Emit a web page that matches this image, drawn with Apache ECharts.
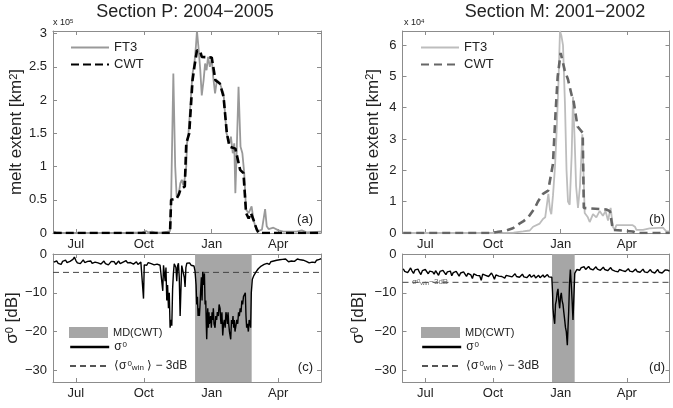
<!DOCTYPE html>
<html><head><meta charset="utf-8">
<script src="https://cdn.jsdelivr.net/npm/echarts@6/dist/echarts.min.js"></script>
<style>html,body{margin:0;padding:0;background:#fff}#c{width:673px;height:408px}</style>
</head><body><div id="c"></div>
<script>
const FONT = 'Liberation Sans, Arial, Helvetica, sans-serif';
// x axis: days since 1 June
const monthNames = ['Jul', 'Oct', 'Jan', 'Apr'];
const monthDays = [30, 122, 214, 304];
const xRange = [-1, 362];
const meltTicksP = [0, 0.5, 1, 1.5, 2, 2.5, 3];
const meltTicksM = [0, 1, 2, 3, 4, 5, 6];
const sigmaTicks = [-30, -20, -10, 0];
const meltMaxP = 3.04, meltMaxM = 6.45, sigmaMin = -33, sigmaMax = 0;

// Section P melt extent (x 10^5 km^2)
const ft3P = [[0,0.02],[3,0.01],[10,0],[60,0],[108,0.005],[120,0.01],[125,0.03],[128,0.01],[133,0.02],[138,0.005],[148,0.01],[154,0.02],[157.5,0.03],[159,0.5],[162,2.4],[164.5,1.0],[166.5,0.55],[169.5,0.6],[171.5,0.75],[173.5,0.8],[175.5,0.72],[177.5,0.82],[179.5,1.0],[180.5,1.35],[182.5,1.5],[185.5,2.0],[188,2.4],[190.5,2.55],[192.5,2.8],[194,3.04],[196,2.8],[198.5,2.45],[200.5,2.07],[203,2.3],[205,2.55],[207,2.45],[209,2.65],[211.5,2.5],[214,2.62],[216,2.35],[218.5,2.1],[221,2.3],[225,2.25],[230,2.1],[234,1.5],[238,1.35],[240,1.45],[242.5,1.2],[244.5,1.35],[246,0.6],[248,1.3],[250.3,2.2],[253,1.3],[255.5,1.2],[258,0.9],[260.5,0.35],[264,0.3],[268,0.4],[270.5,0.2],[273,0.1],[277,0.03],[282,0.05],[286.3,0.36],[288.5,0.1],[291,0.06],[297.5,0.08],[304.5,0.04],[311,0.02],[329,0.02],[336,0.04],[342.5,0.01],[362,0.02]];
const cwtP = [[0,0],[157.5,0],[159,0.5],[166.5,0.52],[169.5,0.58],[171.5,0.65],[177.5,0.7],[179.5,1.35],[183.5,1.5],[188,2.3],[190.5,2.5],[194,2.75],[198.5,2.73],[200.5,2.65],[214,2.64],[219,2.3],[225,2.25],[230,2.05],[234.5,1.5],[238,1.3],[246,1.27],[248,1.25],[252.5,0.95],[257,0.9],[260.5,0.3],[264,0.22],[267,0.3],[270.5,0.2],[275,0.05],[277.5,0],[362,0]];

// Section M melt extent (x 10^4 km^2)
const ft3M = [[0,0],[120,0],[150,0.01],[163,0.05],[172,0.08],[176.5,0.2],[185.5,0.3],[190,0.45],[193,0.5],[195,0.85],[197.3,1.25],[199.5,0.75],[201.3,0.6],[203.6,1.2],[206.3,2.1],[208.1,3.0],[210.9,4.7],[213.1,6.45],[215,6.3],[217.2,6.0],[219.9,4.1],[222,2.0],[224,1.0],[226.3,0.9],[229,2.5],[230.8,4.35],[233,3.0],[235,1.5],[237.6,0.8],[240.3,1.5],[243.5,3.15],[245,2.0],[246.7,0.64],[251,0.5],[253.5,0.35],[258,0.6],[262.5,0.5],[267,0.7],[271.5,0.55],[275,0.7],[278.4,0.4],[282,0.8],[285,0.2],[287.5,0.1],[289.7,0.25],[312,0.25],[315,0.2],[317,0.1],[326,0.1],[328,0.12],[335,0.15],[353,0.17],[357.7,0.05],[362,0.05]];
const cwtM = [[0,0],[117,0],[127,0.03],[140,0.08],[149,0.15],[158,0.3],[163,0.37],[170,0.5],[179,0.8],[183,1.0],[190,1.25],[197,1.35],[203.5,2.2],[207,3.8],[210,5.0],[214,5.75],[219.5,5.2],[224,4.9],[229,4.4],[231,4.3],[237,3.4],[244,3.2],[245.5,0.8],[276,0.75],[281,0.7],[285,0.1],[312,0.05],[317,0],[362,0]];

// sigma0 [dB], Section P
const sigmaP = [[0,-2.1],[2,-2.6],[4,-1.8],[6,-2.4],[8,-2.0],[10,-2.7],[12,-1.9],[14,-2.3],[16,-1.6],[18,-2.2],[20,-2.5],[22,-1.9],[24,-2.2],[26,-1.4],[28,-0.8],[30,-1.7],[32,-2.3],[34,-1.8],[36,-2.5],[38,-2.0],[40,-1.5],[42,-2.2],[44,-2.6],[46,-1.9],[48,-2.3],[50,-1.8],[52,-2.4],[54,-2.9],[56,-2.1],[58,-1.7],[60,-2.3],[62,-2.0],[64,-2.6],[66,-2.2],[68,-1.8],[70,-2.5],[72,-2.1],[74,-2.8],[76,-2.3],[78,-1.9],[80,-2.4],[82,-2.0],[84,-2.7],[86,-2.2],[88,-1.8],[90,-2.5],[92,-2.9],[94,-2.1],[96,-2.4],[98,-1.7],[100,-2.3],[102,-2.8],[104,-2.2],[106,-1.9],[108,-2.6],[110,-2.3],[112,-2.0],[114,-2.7],[116,-2.4],[118,-2.1],[120.6,-2.6],[121.6,-11.5],[122.6,-2.8],[124,-2.4],[126,-2.9],[128,-2.2],[130,-2.7],[132,-2.5],[134,-2.1],[136,-2.8],[138,-2.4],[140,-2.6],[142,-2.2],[144,-2.9],[146.7,-2.5],[147.7,-9.5],[148.7,-2.9],[150,-2.6],[150.9,-7],[152,-3.5],[153.1,-12],[154.2,-8],[155.4,-14],[156.5,-10],[157.6,-19],[158.7,-17],[159.9,-18.5],[161,-9],[162.1,-5],[163.2,-2.5],[164.4,-2.2],[165.5,-3.5],[166.6,-7],[167.8,-3],[168.9,-2.4],[170,-6],[171.2,-16],[172.3,-9],[173.4,-3],[174.5,-2.5],[175.7,-2.8],[176.8,-6],[177.9,-8.5],[179,-3.5],[180.2,-2.4],[182,-2.8],[184,-2.3],[186,-2.9],[188,-2.5],[190,-3.1],[191.4,-4.5],[192.8,-8],[193.7,-13],[194.6,-11],[195.5,-16],[196.4,-14],[197.3,-16],[198.2,-13],[199.1,-9],[200,-6],[200.9,-12],[201.8,-4.6],[202.7,-8],[204.1,-5],[205,-13],[205.9,-12],[206.6,-18],[207.2,-22],[208,-16],[208.6,-14],[209.5,-19],[210.3,-15],[210.8,-18],[211.7,-17],[212.6,-16],[213.5,-19],[214.4,-15],[215.3,-17],[216.2,-14],[217.1,-18],[218.5,-19],[219.5,-16],[220.7,-17],[221.6,-15],[223,-16],[224,-13],[225.3,-14],[226.1,-17],[226.6,-18],[227.8,-15],[228.9,-21],[230,-18],[231.1,-17],[232.2,-19],[233.2,-15],[234.3,-16],[235.2,-18],[236.1,-15],[237,-18],[238,-20],[239.7,-22],[240.8,-17],[241.9,-18],[242.8,-16],[243.7,-19],[244.6,-17],[245.5,-20],[246.9,-20],[248,-17],[249.2,-18],[250.3,-15],[251.4,-16],[252.5,-14],[253.7,-15],[254.8,-12],[255.9,-13],[257,-11],[258.2,-11],[259.5,-10],[260.4,-16],[261.3,-19],[262.4,-18],[263.6,-20],[264.7,-17],[265.8,-18],[266.7,-19],[267.6,-10],[269,-6.5],[270.3,-6],[271.2,-5.5],[272.6,-5],[274,-4.6],[275.5,-4.2],[277,-3.8],[279,-3.5],[281,-3.1],[283,-3.3],[285,-2.7],[287,-3.0],[289,-2.4],[290,-2.2],[292,-2.7],[294,-2.0],[296,-2.4],[298,-1.8],[300,-2.2],[302,-1.6],[304,-2.0],[306,-1.5],[308,-1.9],[310,-1.4],[312,-1.8],[314,-1.3],[316,-1.7],[318,-2.0],[320,-1.5],[322,-1.8],[324,-1.4],[326,-1.9],[328,-1.6],[330,-1.3],[332,-1.8],[334,-1.5],[336,-2.0],[338,-1.6],[340,-1.4],[342,-1.9],[344,-1.5],[346,-2.3],[348,-2.8],[350,-2.1],[352,-1.7],[354,-2.2],[356,-1.6],[358,-1.9],[360,-1.4],[362,-1.2]];

// sigma0 [dB], Section M
const sigmaM = [[0,-3.8],[2,-4.5],[4,-4.0],[6,-4.8],[8,-4.2],[10,-3.6],[12,-4.4],[14,-5.0],[16,-4.1],[18,-4.6],[20,-3.9],[22,-4.7],[24,-5.3],[26,-4.3],[28,-4.8],[30,-4.0],[32,-4.5],[34,-5.1],[36,-4.4],[38,-3.9],[40,-4.6],[42,-5.2],[44,-4.3],[46,-4.8],[48,-5.5],[50,-4.5],[52,-4.9],[54,-4.2],[56,-4.7],[58,-5.3],[60,-4.6],[62,-5.0],[64,-4.4],[66,-5.6],[68,-4.8],[70,-5.2],[72,-4.5],[74,-5.0],[76,-5.7],[78,-4.9],[80,-5.3],[82,-4.6],[84,-5.1],[86,-5.8],[88,-5.0],[90,-4.7],[92,-5.4],[94,-6.3],[96,-5.1],[98,-4.8],[100,-5.5],[102,-5.0],[104,-5.6],[106,-6.8],[108,-5.2],[110,-4.9],[112,-5.5],[114,-5.1],[116,-5.8],[118,-5.3],[120,-4.9],[122,-5.6],[124,-6.5],[126,-5.4],[128,-5.0],[130,-5.7],[132,-5.2],[134,-5.8],[136,-5.3],[138,-6.2],[140,-5.5],[142,-5.0],[144,-5.7],[146,-5.3],[148,-5.9],[150,-5.4],[152,-5.1],[154,-5.8],[156,-5.4],[158,-6.0],[160,-5.5],[162,-5.2],[164,-5.9],[166,-5.5],[168,-6.1],[170,-5.6],[172,-5.3],[174,-6.0],[176,-5.7],[178,-5.4],[180,-6.2],[182,-5.8],[184,-5.5],[186,-6.1],[188,-5.7],[190,-5.4],[192,-6.0],[194,-5.6],[196,-5.3],[198,-5.9],[200,-5.5],[202,-6.0],[203,-10],[203.6,-14],[204.5,-16],[205.9,-18],[207,-13],[208.1,-12],[209.2,-10],[210.4,-9],[211.5,-12],[212.7,-14],[213.8,-11],[214.9,-10],[216,-12],[217.2,-13],[218.3,-15],[219.5,-17],[220.6,-19],[221.7,-20],[223.1,-23.5],[224,-19],[224.9,-15],[226,-8],[227.2,-4],[228.5,-8],[229.6,-12],[230.8,-17],[232.2,-10],[233.2,-5],[234,-4.5],[236,-4.0],[238,-3.6],[240,-4.2],[242,-3.5],[244,-3.9],[246,-3.3],[248,-4.0],[250,-3.6],[252,-3.2],[254,-3.8],[256,-3.4],[258,-4.1],[260,-3.6],[262,-3.3],[264,-3.9],[266,-3.5],[268,-4.2],[270,-3.7],[272,-3.4],[274,-4.0],[276,-3.6],[278,-4.3],[280,-3.8],[282,-3.5],[284,-4.1],[286,-3.7],[288,-4.4],[290,-3.9],[292,-4.6],[294,-4.0],[296,-3.7],[298,-4.3],[300,-3.9],[302,-4.5],[304,-4.1],[306,-3.8],[308,-4.4],[310,-4.0],[312,-4.6],[314,-4.2],[316,-3.9],[318,-4.5],[320,-4.1],[322,-4.7],[324,-4.2],[326,-3.9],[328,-4.6],[330,-4.2],[332,-4.8],[334,-4.3],[336,-4.0],[338,-4.6],[340,-4.2],[342,-4.9],[344,-4.4],[346,-4.0],[348,-4.7],[350,-4.3],[352,-4.9],[354,-4.5],[356,-4.1],[358,-4.6],[360,-4.2],[362,-4.4]];

// melt duration (CWT) windows and thresholds
const mdP = [191.4, 268.1];
const mdM = [202.3, 233.1];
const thrP = -4.74;
const thrM = -7.3;

const AX = '#8c8c8c', TXT = '#222';
const grids = [
  {left: 53, top: 31, width: 268, height: 202},
  {left: 402.5, top: 31, width: 267, height: 202},
  {left: 53, top: 254, width: 268, height: 128},
  {left: 402.5, top: 254, width: 267, height: 128}
];
const RICH = {
  sup: {fontSize: 8, verticalAlign: 'top', fontFamily: FONT, color: TXT, padding: [0, 0, 0, 1]},
  sub: {fontSize: 8, verticalAlign: 'bottom', fontFamily: FONT, color: TXT}
};
const RICHNAME = {sup: {fontSize: 11, verticalAlign: 'top', fontFamily: FONT, color: TXT}};

function xAx(gi, pos, labels) {
  return {type: 'value', gridIndex: gi, position: pos, min: xRange[0], max: xRange[1],
    axisLine: {show: true, onZero: false, lineStyle: {color: AX, width: 1}},
    axisTick: {show: true, inside: true, length: 4, customValues: monthDays, lineStyle: {color: AX}},
    axisLabel: {show: labels, customValues: monthDays, margin: 5, color: TXT, fontSize: 13, fontFamily: FONT,
      formatter: v => monthNames[monthDays.indexOf(v)]},
    splitLine: {show: false}};
}
function fmtNum(v) { return v < 0 ? '\u2212' + Math.abs(v) : String(v); }
function yAx(gi, pos, labels, min, max, ticks, name, gap) {
  return {type: 'value', gridIndex: gi, position: pos, min: min, max: max,
    name: labels ? name : '', nameLocation: 'middle', nameGap: gap,
    nameTextStyle: {fontSize: 17, color: TXT, fontFamily: FONT, rich: RICHNAME},
    axisLine: {show: true, onZero: false, lineStyle: {color: AX, width: 1}},
    axisTick: {show: true, inside: true, length: 4, customValues: ticks, lineStyle: {color: AX}},
    axisLabel: {show: labels, customValues: ticks, margin: 6, color: TXT, fontSize: 13, fontFamily: FONT, formatter: fmtNum},
    splitLine: {show: false}};
}
const meltName = 'melt extent [km{sup|2}]';
const sigName = '\u03c3{sup|0} [dB]';
const xAxes = [], yAxes = [];
const yCfg = [
  [0, meltMaxP, meltTicksP, meltName, 27],
  [0, meltMaxM, meltTicksM, meltName, 21],
  [sigmaMin, sigmaMax, sigmaTicks, sigName, 32],
  [sigmaMin, sigmaMax, sigmaTicks, sigName, 36]
];
for (let g = 0; g < 4; g++) {
  xAxes.push(xAx(g, 'bottom', true), xAx(g, 'top', false));
  const c = yCfg[g];
  yAxes.push(yAx(g, 'left', true, c[0], c[1], c[2], c[3], c[4]), yAx(g, 'right', false, c[0], c[1], c[2], c[3], c[4]));
}

function line(name, g, data, color, width, type, z) {
  return {type: 'line', name: name, xAxisIndex: 2 * g, yAxisIndex: 2 * g, data: data, symbol: 'none',
    lineStyle: {color: color, width: width, type: type}, itemStyle: {color: color}, z: z, silent: true};
}
function mdSeries(name, g, md) {
  return {type: 'line', name: name, xAxisIndex: 2 * g, yAxisIndex: 2 * g,
    data: [[md[0], sigmaMin], [md[1], sigmaMin]], symbol: 'none', lineStyle: {opacity: 0, width: 0},
    itemStyle: {color: '#a6a6a6'}, z: 1, silent: true,
    markArea: {silent: true, itemStyle: {color: '#a6a6a6', opacity: 1}, data: [[{xAxis: md[0]}, {xAxis: md[1]}]]}};
}
const series = [
  mdSeries('MD P', 2, mdP),
  mdSeries('MD M', 3, mdM),
  line('FT3 P', 0, ft3P, '#999999', 1.8, 'solid', 3),
  line('CWT P', 0, cwtP, '#000000', 2.6, [8, 4], 4),
  line('FT3 M', 1, ft3M, '#bdbdbd', 1.8, 'solid', 3),
  line('CWT M', 1, cwtM, '#666666', 2.6, [8, 5], 4),
  line('thr P', 2, [[xRange[0], thrP], [xRange[1], thrP]], '#444444', 1, [6, 4], 3),
  line('thr M', 3, [[xRange[0], thrM], [xRange[1], thrM]], '#444444', 1, [6, 4], 3),
  line('sigma P', 2, sigmaP, '#000000', 1.4, 'solid', 5),
  line('sigma M', 3, sigmaM, '#000000', 1.4, 'solid', 5)
];

const legendText = {
  'FT3 P': 'FT3', 'CWT P': 'CWT', 'FT3 M': 'FT3', 'CWT M': 'CWT',
  'MD P': 'MD(CWT)', 'MD M': 'MD(CWT)',
  'sigma P': '\u03c3{sup|0}', 'sigma M': '\u03c3{sup|0}',
  'thr P': '\u27e8\u03c3{sup|0}{sub|win} \u27e9 \u2212 3dB', 'thr M': '\u27e8\u03c3{sup|0}{sub|win} \u27e9 \u2212 3dB'
};
function leg(name, left, top, fs, extra) {
  return Object.assign({data: [name], left: left, top: top, padding: 0, itemWidth: 38, itemHeight: 12,
    selectedMode: false, formatter: n => legendText[n], itemStyle: {opacity: 0},
    textStyle: {fontFamily: FONT, fontSize: fs, color: TXT, rich: RICH}}, extra || {});
}
const legends = [
  leg('FT3 P', 70, 41, 13), leg('CWT P', 70, 58, 13),
  leg('FT3 M', 420, 41, 13), leg('CWT M', 420, 58, 13),
  leg('MD P', 69, 327, 11, {icon: 'rect', itemWidth: 39, itemHeight: 11, itemStyle: {opacity: 1}}),
  leg('sigma P', 69, 341, 12, {itemWidth: 39, lineStyle: {width: 2.4}}),
  leg('thr P', 69, 360, 12, {itemWidth: 39, lineStyle: {color: '#555555'}}),
  leg('MD M', 421, 327, 11, {icon: 'rect', itemWidth: 39, itemHeight: 11, itemStyle: {opacity: 1}}),
  leg('sigma M', 421, 341, 12, {itemWidth: 39, lineStyle: {width: 2.4}}),
  leg('thr M', 421, 360, 12, {itemWidth: 39, lineStyle: {color: '#555555'}})
];

function txt(text, x, y, size, align, extra) {
  return {type: 'text', x: x, y: y, silent: true,
    style: Object.assign({text: text, fontSize: size, fontFamily: FONT, fill: TXT, align: align, verticalAlign: 'middle'}, extra || {})};
}
const graphics = [
  txt('Section P: 2004\u22122005', 185, 12, 18, 'center'),
  txt('Section M: 2001\u22122002', 555, 12, 18, 'center'),
  txt('x 10{s|5}', 53, 23, 9, 'left', {rich: {s: {fontSize: 6, verticalAlign: 'top', fontFamily: FONT, fill: TXT}}}),
  txt('x 10{s|4}', 404, 23, 9, 'left', {rich: {s: {fontSize: 6, verticalAlign: 'top', fontFamily: FONT, fill: TXT}}}),
  txt('(a)', 313, 219, 13, 'right'),
  txt('(b)', 665, 219, 13, 'right'),
  txt('(c)', 313, 367, 13, 'right'),
  txt('(d)', 665, 367, 13, 'right'),
  txt('\u03c3{s|0}{b|win}\u22123dB', 412, 282, 8, 'left', {fill: '#666',
    rich: {s: {fontSize: 6, verticalAlign: 'top', fontFamily: FONT, fill: '#666'}, b: {fontSize: 6, verticalAlign: 'bottom', fontFamily: FONT, fill: '#666'}}})
];

const chart = echarts.init(document.getElementById('c'), null, {renderer: 'canvas'});
chart.setOption({
  animation: false,
  backgroundColor: '#fff',
  grid: grids,
  xAxis: xAxes,
  yAxis: yAxes,
  legend: legends,
  series: series,
  graphic: graphics
});
</script></body></html>
